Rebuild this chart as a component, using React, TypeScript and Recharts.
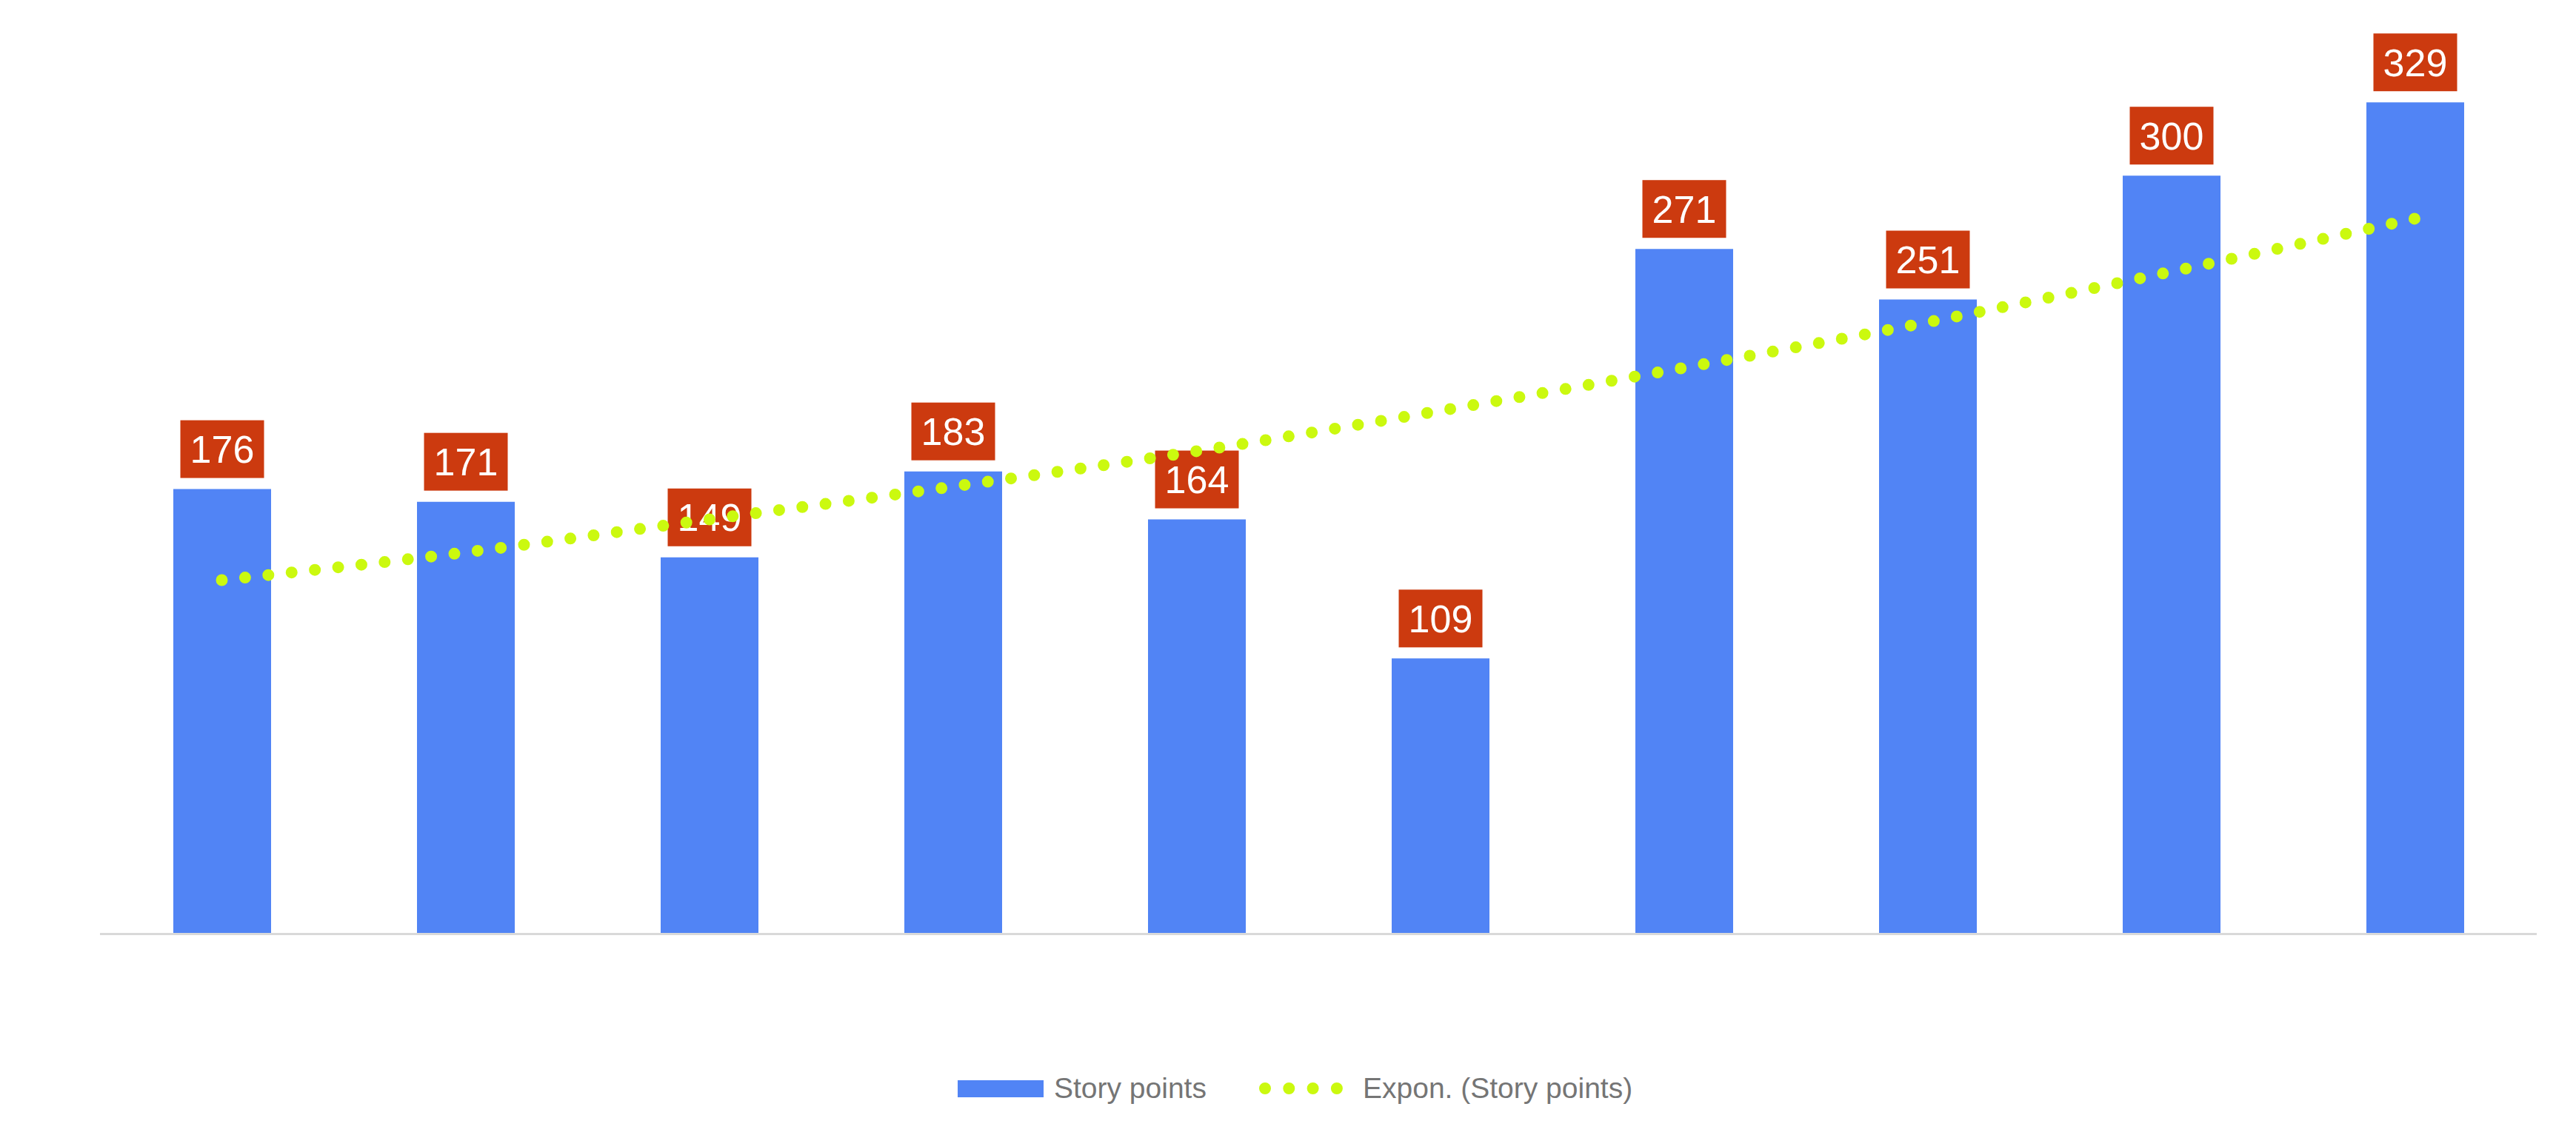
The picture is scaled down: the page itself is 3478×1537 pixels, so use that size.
import React from "react";
import { ComposedChart, Bar, Line, XAxis, YAxis, LabelList } from "recharts";

const sprints = ["S1", "S2", "S3", "S4", "S5", "S6", "S7", "S8", "S9", "S10"];
const storyPoints = [176, 171, 149, 183, 164, 109, 271, 251, 300, 329];
// exponential trendline at each category
const trendPoints = [140, 151, 164, 177, 191, 207, 224, 242, 262, 283];

const BAR_NAME = "Story points";
const TREND_NAME = "Expon. (Story points)";

const BLUE = "#5184F5";
const LIME = "#CBF90F";
const LABEL_BG = "#CC3A0F";
const FONT = "'Liberation Sans', Arial, sans-serif";

const data = sprints.map((s, i) => ({ name: s, points: storyPoints[i], trend: trendPoints[i] }));

const W = 3478;
const H = 1537;

function ValueBox(props: any) {
  const { x, y, width, value } = props;
  const cx = x + width / 2;
  const bw = 113;
  const bh = 78;
  const top = y - 15 - bh;
  return (
    <g>
      <rect x={cx - bw / 2} y={top} width={bw} height={bh} fill={LABEL_BG} />
      <text
        x={cx}
        y={top + bh / 2 + 18.5}
        textAnchor="middle"
        fill="#FFFFFF"
        fontSize={52}
        fontFamily={FONT}
      >
        {value}
      </text>
    </g>
  );
}

export default function App() {
  return (
    <div style={{ position: "fixed", left: 0, top: 0, width: W, height: H, background: "#fff" }}>
      <ComposedChart
        width={W}
        height={H}
        data={data}
        margin={{ top: 66.5, right: 53, bottom: 274.5, left: 135 }}
      >
        <XAxis
          dataKey="name"
          tick={false}
          tickLine={false}
          height={1}
          axisLine={{ stroke: "#D9D9D9", strokeWidth: 3 }}
        />
        <YAxis hide domain={[0, 350]} />
        <Bar dataKey="points" name={BAR_NAME} fill={BLUE} barSize={132} isAnimationActive={false}>
          <LabelList dataKey="points" content={<ValueBox />} />
        </Bar>
        <Line
          dataKey="trend"
          name={TREND_NAME}
          type="monotone"
          stroke={LIME}
          strokeWidth={16}
          strokeLinecap="round"
          strokeDasharray="0 31.6"
          dot={false}
          activeDot={false}
          isAnimationActive={false}
          zIndex={2500}
        />
      </ComposedChart>

      {/* legend */}
      <div style={{ position: "absolute", left: 1293, top: 1459, width: 116, height: 23, background: BLUE }} />
      <div
        style={{
          position: "absolute",
          left: 1423,
          top: 1447,
          fontFamily: FONT,
          fontSize: 39,
          lineHeight: "46px",
          color: "#757575",
          whiteSpace: "nowrap",
        }}
      >
        {BAR_NAME}
      </div>
      <svg style={{ position: "absolute", left: 1696, top: 1458 }} width={124} height={24}>
        <line
          x1={12}
          y1={12}
          x2={112}
          y2={12}
          stroke={LIME}
          strokeWidth={16}
          strokeLinecap="round"
          strokeDasharray="0 32.3"
        />
      </svg>
      <div
        style={{
          position: "absolute",
          left: 1840,
          top: 1447,
          fontFamily: FONT,
          fontSize: 39,
          lineHeight: "46px",
          color: "#757575",
          whiteSpace: "nowrap",
        }}
      >
        {TREND_NAME}
      </div>
    </div>
  );
}
